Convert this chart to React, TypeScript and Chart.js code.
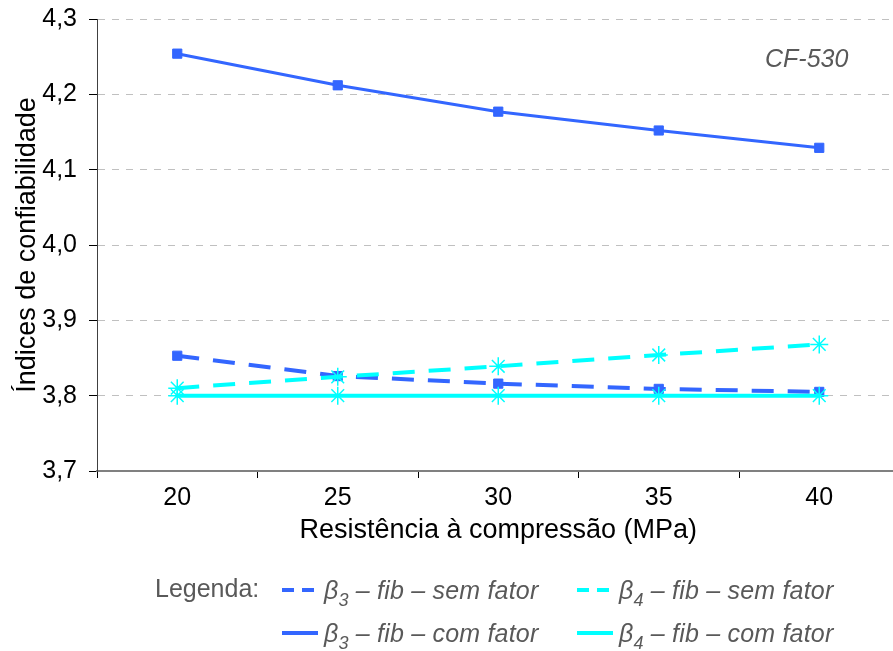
import React, { useEffect, useRef } from "react";
import { Chart, registerables } from "chart.js";

Chart.register(...registerables);

const categories = ["20", "25", "30", "35", "40"];
const beta3SemFator = [3.853, 3.826, 3.816, 3.809, 3.805];
const beta3ComFator = [4.254, 4.212, 4.177, 4.152, 4.129];
const beta4SemFator = [3.81, 3.825, 3.839, 3.854, 3.868];
const beta4ComFator = [3.8, 3.8, 3.8, 3.8, 3.8];
const yMin = 3.7;
const yMax = 4.3;
const yStep = 0.1;

const BLUE = "#3366FF";
const CYAN = "#00FFFF";
const GRAY_TEXT = "#595959";
const FONT = "'Liberation Sans', Arial, sans-serif";

function LegendSample({ color, dashed }: { color: string; dashed: boolean }) {
  return (
    <svg width={38} height={10} style={{ display: "block" }}>
      <line
        x1={0}
        y1={5}
        x2={36}
        y2={5}
        stroke={color}
        strokeWidth={4}
        strokeDasharray={dashed ? "12 8" : undefined}
      />
    </svg>
  );
}

function LegendItem({ left, top, color, dashed, sub, label }: any) {
  return (
    <div style={{ position: "absolute", left, top, height: 30, display: "flex", alignItems: "center" }}>
      <LegendSample color={color} dashed={dashed} />
      <span
        style={{
          marginLeft: 4,
          fontStyle: "italic",
          fontSize: 25,
          color: GRAY_TEXT,
          fontFamily: FONT,
          whiteSpace: "nowrap",
          lineHeight: "30px",
          letterSpacing: 0.2,
        }}
      >
        β<sub style={{ fontSize: 18, verticalAlign: -7, lineHeight: 0 }}>{sub}</sub> – fib – {label}
      </span>
    </div>
  );
}

export default function App() {
  const canvasRef = useRef<HTMLCanvasElement | null>(null);

  useEffect(() => {
    if (!canvasRef.current) return;
    const chart = new Chart(canvasRef.current, {
      type: "line",
      data: {
        labels: categories,
        datasets: [
          {
            label: "β4 – fib – com fator",
            data: beta4ComFator,
            borderColor: CYAN,
            backgroundColor: CYAN,
            borderWidth: 4,
            pointStyle: "star",
            pointRadius: 9,
            pointBorderWidth: 1.5,
            pointBorderColor: CYAN,
            tension: 0,
          },
          {
            label: "β4 – fib – sem fator",
            data: beta4SemFator,
            borderColor: CYAN,
            backgroundColor: CYAN,
            borderWidth: 4,
            borderDash: [22, 14],
            pointStyle: "star",
            pointRadius: 9,
            pointBorderWidth: 1.5,
            pointBorderColor: CYAN,
            tension: 0,
          },
          {
            label: "β3 – fib – sem fator",
            data: beta3SemFator,
            borderColor: BLUE,
            backgroundColor: BLUE,
            borderWidth: 4,
            borderDash: [22, 14],
            pointStyle: "rect",
            pointRadius: 6.5,
            pointBorderWidth: 1,
            tension: 0,
          },
          {
            label: "β3 – fib – com fator",
            data: beta3ComFator,
            borderColor: BLUE,
            backgroundColor: BLUE,
            borderWidth: 3,
            pointStyle: "rect",
            pointRadius: 6.5,
            pointBorderWidth: 1,
            tension: 0,
          },
        ],
      },
      options: {
        responsive: false,
        animation: false,
        layout: { padding: { top: 19, right: 0, bottom: 100, left: 0 } },
        plugins: {
          legend: { display: false },
          tooltip: { enabled: false },
          title: { display: false },
        },
        scales: {
          x: {
            type: "category",
            offset: true,
            afterFit: (s: any) => {
              s.height = 80;
              s.paddingLeft = 0;
              s.paddingRight = 0;
            },
            grid: {
              display: true,
              drawOnChartArea: false,
              drawTicks: true,
              tickLength: 7,
              offset: true,
              tickColor: "#000000",
              tickWidth: 1,
            },
            border: { display: true, color: "#808080", width: 2 },
            ticks: {
              color: "#000000",
              font: { family: FONT, size: 25 },
              padding: 5,
              maxRotation: 0,
            },
            title: {
              display: true,
              text: "Resistência à compressão (MPa)",
              color: "#000000",
              font: { family: FONT, size: 27 },
              padding: { top: 0, bottom: 4 },
            },
          },
          y: {
            min: yMin,
            max: yMax,
            afterFit: (s: any) => {
              s.width = 97;
              s.paddingTop = 0;
              s.paddingBottom = 0;
            },
            grid: {
              color: "#c0c0c0",
              lineWidth: 1,
              drawTicks: true,
              tickLength: 8,
              tickColor: "#000000",
              tickWidth: 1,
              tickBorderDash: [],
            },
            border: { display: true, color: "#404040", width: 1, dash: [7, 7] },
            ticks: {
              stepSize: yStep,
              color: "#000000",
              font: { family: FONT, size: 25 },
              padding: 12,
              callback: (v: any) => Number(v).toFixed(1).replace(".", ","),
            },
            title: {
              display: true,
              text: "Índices de confiabilidade",
              color: "#000000",
              font: { family: FONT, size: 27 },
              padding: { top: 11, bottom: 0 },
            },
          },
        },
      },
    });
    return () => chart.destroy();
  }, []);

  return (
    <div
      style={{
        position: "absolute",
        left: 0,
        top: 0,
        width: 893,
        height: 651,
        overflow: "hidden",
        background: "#ffffff",
        fontFamily: FONT,
      }}
    >
      <canvas ref={canvasRef} width={910} height={651} style={{ position: "absolute", left: 0, top: 0 }} />
      <div
        style={{
          position: "absolute",
          left: 765,
          top: 43,
          fontSize: 25,
          fontStyle: "italic",
          color: GRAY_TEXT,
          lineHeight: "30px",
        }}
      >
        CF-530
      </div>
      <div
        style={{
          position: "absolute",
          left: 155,
          top: 573,
          fontSize: 25,
          color: GRAY_TEXT,
          lineHeight: "30px",
        }}
      >
        Legenda:
      </div>
      <LegendItem left={282} top={575} color={BLUE} dashed={true} sub="3" label="sem fator" />
      <LegendItem left={577} top={575} color={CYAN} dashed={true} sub="4" label="sem fator" />
      <LegendItem left={282} top={618} color={BLUE} dashed={false} sub="3" label="com fator" />
      <LegendItem left={577} top={618} color={CYAN} dashed={false} sub="4" label="com fator" />
    </div>
  );
}
